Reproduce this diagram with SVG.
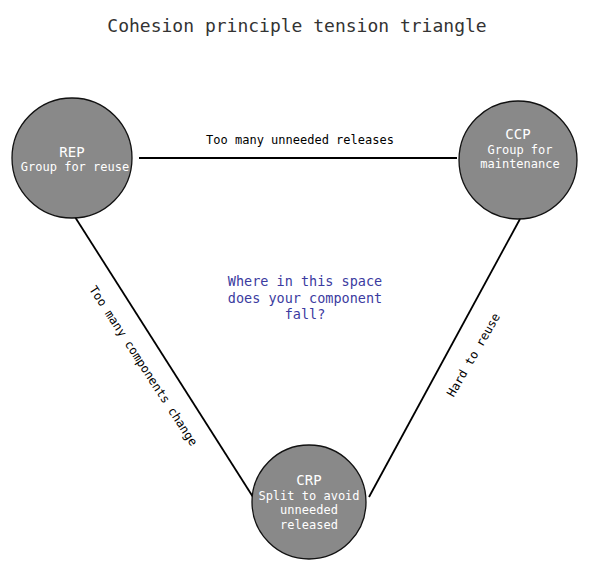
<svg xmlns="http://www.w3.org/2000/svg" width="593" height="563" viewBox="0 0 593 563">
<style>
text{font-family:"DejaVu Sans Mono","Liberation Mono",monospace;}
.title{font-size:18px;fill:#333;text-anchor:middle;}
.node circle{fill:#898989;stroke:#111;stroke-width:1.3;}
.nt{fill:#fff;font-size:12px;text-anchor:middle;}
.nh{fill:#fff;font-size:14px;text-anchor:middle;}
.edge{stroke:#000;stroke-width:1.8;fill:none;}
.el{font-size:12px;fill:#000;text-anchor:middle;}
.q{font-size:13.5px;fill:#3b3ba0;text-anchor:middle;}
</style>
<rect width="593" height="563" fill="#fff"/>
<text class="title" x="297" y="32">Cohesion principle tension triangle</text>
<g id="connectors">
<line class="edge" x1="139" y1="158" x2="457" y2="158"/>
<line class="edge" x1="75" y1="217" x2="253" y2="497"/>
<line class="edge" x1="520" y1="219" x2="369" y2="497"/>
<text class="el" x="300" y="144">Too many unneeded releases</text>
<text class="el" transform="translate(140,368) rotate(57)">Too many components change</text>
<text class="el" transform="translate(477,357) rotate(-60)">Hard to reuse</text>
</g>
<g id="REP" class="node">
<circle cx="72" cy="158" r="60"/>
<text class="nh" x="72" y="157">REP</text>
<text class="nt" x="75" y="171">Group for reuse</text>
</g>
<g id="CCP" class="node">
<circle cx="518" cy="160" r="59"/>
<text class="nh" x="518" y="139">CCP</text>
<text class="nt" x="520" y="154">Group for</text>
<text class="nt" x="520" y="168">maintenance</text>
</g>
<g id="CRP" class="node">
<circle cx="309" cy="502" r="57"/>
<text class="nh" x="309" y="485">CRP</text>
<text class="nt" x="309" y="500">Split to avoid</text>
<text class="nt" x="309" y="514">unneeded</text>
<text class="nt" x="309" y="529">released</text>
</g>
<g id="question">
<text class="q" x="305" y="286">Where in this space</text>
<text class="q" x="305" y="303">does your component</text>
<text class="q" x="305" y="319">fall?</text>
</g>
</svg>
